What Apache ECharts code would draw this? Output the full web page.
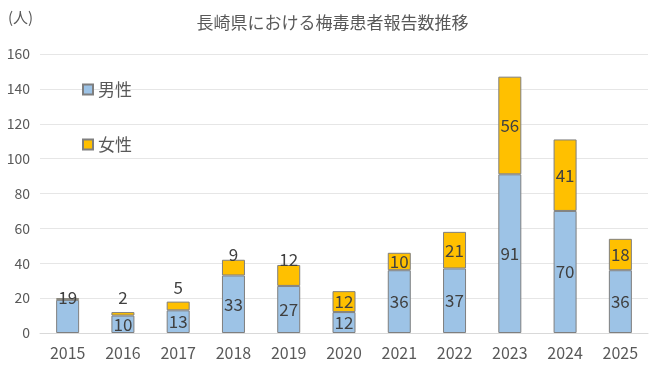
<!DOCTYPE html>
<html><head><meta charset="utf-8">
<script src="https://cdn.jsdelivr.net/npm/echarts@6/dist/echarts.min.js"></script>
<style>html,body{margin:0;padding:0;background:#fff}#c{width:665px;height:382px}</style>
</head><body><div id="c"></div>
<script>
const years = ['2015','2016','2017','2018','2019','2020','2021','2022','2023','2024','2025'];
const male = [19,10,13,33,27,12,36,37,91,70,36];
const female = [1,2,5,9,12,12,10,21,56,41,18];
const yTicks = [0,20,40,60,80,100,120,140,160];

const font = '"Noto Sans CJK JP", sans-serif';
const chart = echarts.init(document.getElementById('c'));
const lbl = {show:true, position:'inside', color:'#404040', fontSize:17, fontFamily:font};
chart.setOption({
  animation:false,
  title:{text:'長崎県における梅毒患者報告数推移', left:'center', top:9,
    textStyle:{fontSize:17, fontWeight:'normal', color:'#595959', fontFamily:font}},
  graphic:[{type:'text', left:8, top:10, style:{text:'(人)', fontSize:15, fill:'#595959', fontFamily:font}}],
  legend:{orient:'vertical', left:77, top:76, itemGap:38, itemWidth:10, itemHeight:10,
    icon:'rect', textStyle:{fontSize:17, color:'#595959', fontFamily:font},
    data:['男性','女性']},
  grid:{left:40, right:17, top:54, bottom:49},
  xAxis:{type:'category', data:years,
    axisLine:{lineStyle:{color:'#d9d9d9'}}, axisTick:{show:false},
    axisLabel:{color:'#595959', fontSize:16, fontFamily:font, margin:12}},
  yAxis:{type:'value', min:yTicks[0], max:yTicks[yTicks.length-1], interval:20,
    axisLabel:{color:'#595959', fontSize:14, fontFamily:font, margin:10, align:'right'},
    splitLine:{lineStyle:{color:'#e6e6e6'}}},
  series:[
    {name:'男性', type:'bar', stack:'a', barWidth:23,
     itemStyle:{color:'#9DC3E6', borderColor:'#7f7f7f', borderWidth:1},
     label:lbl,
     data:male.map((v,i)=> i===0 ? {value:v, label:{position:'top', offset:[0,11]}} : v)},
    {name:'女性', type:'bar', stack:'a', barWidth:23,
     itemStyle:{color:'#FFC000', borderColor:'#7f7f7f', borderWidth:1},
     label:lbl,
     data:female.map((v,i)=>{
       if(i===0) return {value:v, label:{show:false}};
       if(i===3 || i===4) return {value:v, label:{position:'top', offset:[0,8]}};
       if(v<8) return {value:v, label:{position:'top', offset:[0,-1]}};
       return v;
     })}
  ]
});
</script></body></html>
